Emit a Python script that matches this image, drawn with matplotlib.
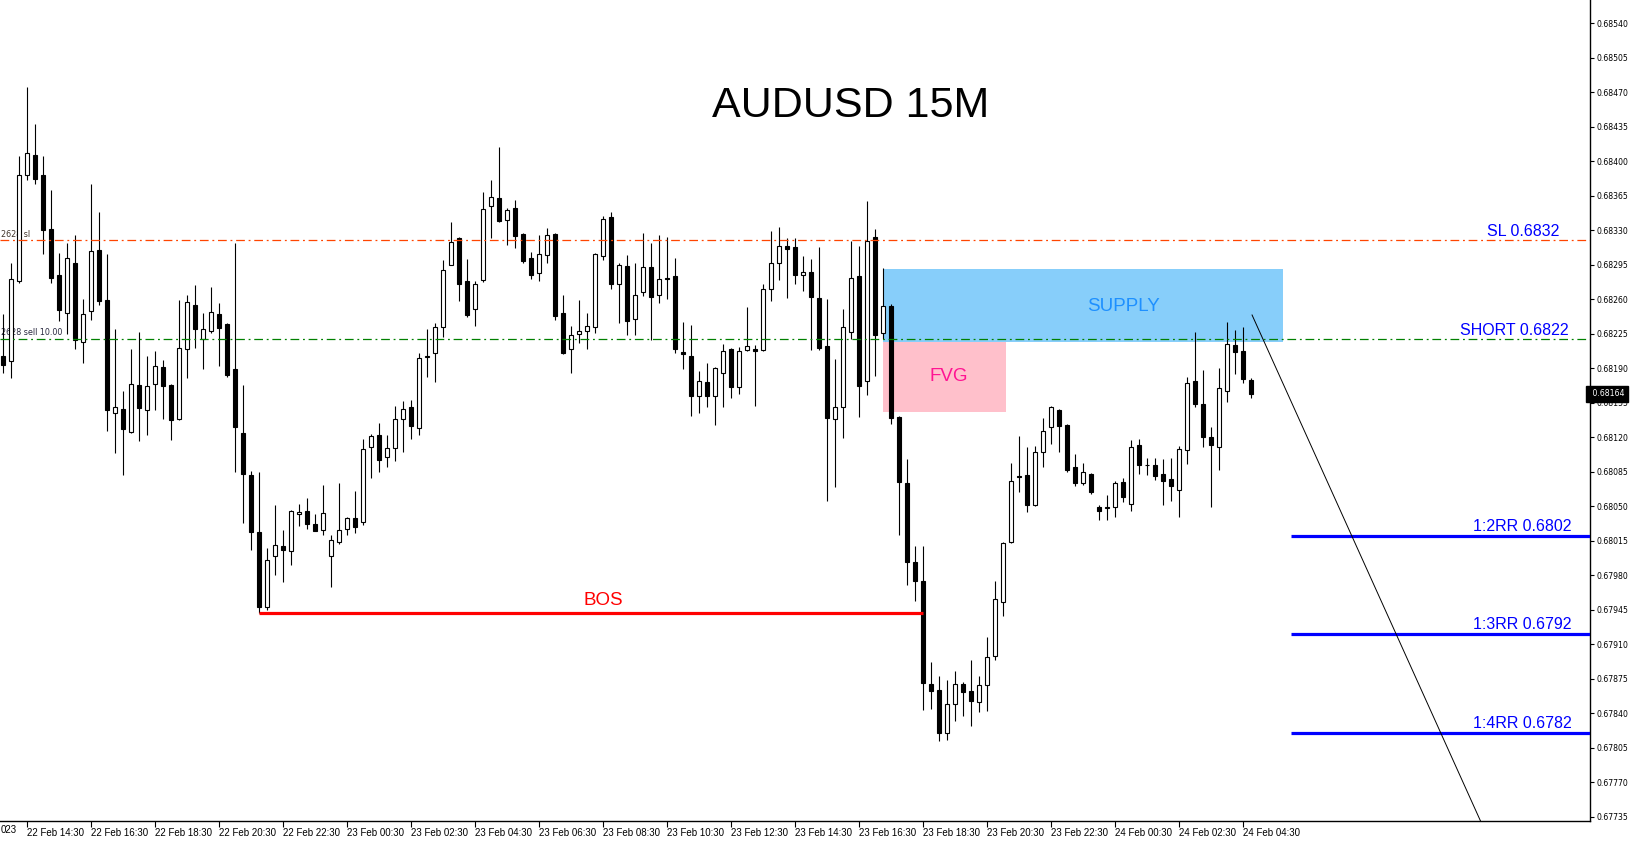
import numpy as np
import pandas as pd
import matplotlib
matplotlib.use("Agg")
import matplotlib.pyplot as plt
from matplotlib.patches import Rectangle
from matplotlib.transforms import blended_transform_factory

# AUDUSD 15 minute candles, prices in points (0.00001)
start_time = pd.Timestamp("2023-02-22 13:45")
opens = [68202, 68197, 68278, 68386, 68406, 68386, 68331, 68285, 68246, 68297,
         68217, 68248, 68310, 68259, 68145, 68149, 68125, 68173, 68148, 68174,
         68191, 68173, 68138, 68210, 68254, 68220, 68228, 68245, 68235, 68189,
         68124, 68082, 68024, 67948, 67999, 68010, 68005, 68042, 68045, 68032,
         68026, 67999, 68014, 68027, 68038, 68034, 68110, 68122, 68100, 68109,
         68138, 68151, 68129, 68201, 68205, 68232, 68295, 68322, 68278, 68250,
         68280, 68355, 68363, 68340, 68353, 68326, 68302, 68287, 68305, 68326,
         68246, 68210, 68225, 68228, 68232, 68304, 68343, 68275, 68294, 68240,
         68267, 68293, 68264, 68282, 68284, 68206, 68202, 68162, 68176, 68162,
         68185, 68210, 68171, 68208, 68210, 68208, 68270, 68297, 68314, 68313,
         68285, 68288, 68261, 68213, 68138, 68151, 68227, 68284, 68177, 68323,
         68226, 68253, 68141, 68074, 67993, 67974, 67870, 67864, 67820, 67849,
         67870, 67863, 67851, 67869, 67898, 67953, 68014, 68081, 68082, 68051,
         68105, 68130, 68148, 68132, 68090, 68074, 68083, 68049, 68048, 68049,
         68075, 68052, 68112, 68092, 68092, 68083, 68078, 68066, 68107, 68177,
         68154, 68120, 68110, 68167, 68214, 68207, 68178]
highs = [68245, 68297, 68405, 68475, 68438, 68405, 68371, 68307, 68317, 68325,
         68260, 68377, 68349, 68306, 68230, 68167, 68209, 68227, 68202, 68207,
         68198, 68174, 68259, 68264, 68274, 68246, 68272, 68256, 68236, 68317,
         68173, 68086, 68085, 68008, 68051, 68026, 68046, 68052, 68058, 68042,
         68072, 68021, 68074, 68039, 68065, 68118, 68123, 68134, 68122, 68152,
         68157, 68158, 68205, 68230, 68236, 68300, 68338, 68323, 68301, 68278,
         68369, 68381, 68414, 68353, 68361, 68327, 68308, 68325, 68332, 68327,
         68264, 68233, 68259, 68246, 68307, 68344, 68348, 68297, 68305, 68297,
         68327, 68317, 68325, 68323, 68302, 68237, 68234, 68187, 68195, 68191,
         68215, 68211, 68212, 68252, 68214, 68275, 68329, 68333, 68322, 68322,
         68304, 68301, 68313, 68260, 68199, 68250, 68319, 68314, 68360, 68331,
         68292, 68255, 68142, 68098, 68010, 68010, 67892, 67878, 67874, 67883,
         67872, 67894, 67878, 67917, 67974, 68014, 68094, 68121, 68110, 68111,
         68139, 68152, 68149, 68133, 68103, 68094, 68084, 68051, 68061, 68076,
         68079, 68117, 68118, 68099, 68099, 68098, 68099, 68111, 68181, 68227,
         68188, 68130, 68190, 68237, 68229, 68232, 68180]
lows = [68185, 68180, 68276, 68381, 68377, 68306, 68276, 68238, 68225, 68210,
        68195, 68239, 68254, 68126, 68104, 68082, 68124, 68116, 68122, 68148,
        68138, 68117, 68137, 68180, 68211, 68189, 68226, 68192, 68181, 68085,
        68033, 68006, 67942, 67945, 67980, 67973, 67990, 68030, 68027, 68025,
        68021, 67968, 68012, 68021, 68023, 68031, 68079, 68085, 68090, 68096,
        68105, 68118, 68122, 68181, 68176, 68222, 68295, 68258, 68242, 68233,
        68277, 68322, 68338, 68315, 68312, 68297, 68281, 68278, 68297, 68239,
        68204, 68185, 68216, 68210, 68226, 68300, 68270, 68236, 68224, 68224,
        68263, 68219, 68256, 68260, 68205, 68189, 68142, 68145, 68151, 68132,
        68151, 68160, 68164, 68207, 68152, 68207, 68258, 68280, 68261, 68275,
        68268, 68208, 68208, 68055, 68069, 68119, 68220, 68141, 68163, 68182,
        68220, 68133, 68021, 67970, 67954, 67843, 67844, 67812, 67813, 67832,
        67837, 67827, 67841, 67842, 67894, 67939, 68013, 68064, 68044, 68050,
        68090, 68113, 68105, 68085, 68070, 68072, 68062, 68036, 68036, 68039,
        68054, 68045, 68083, 68082, 68077, 68051, 68055, 68039, 68093, 68151,
        68110, 68049, 68087, 68156, 68184, 68175, 68160]
closes = [68193, 68281, 68386, 68408, 68382, 68330, 68282, 68249, 68302, 68219,
          68245, 68309, 68258, 68148, 68151, 68128, 68174, 68150, 68172, 68192,
          68172, 68137, 68211, 68257, 68230, 68230, 68247, 68231, 68183, 68130,
          68083, 68024, 67948, 67995, 68011, 68006, 68045, 68044, 68032, 68025,
          68043, 68016, 68026, 68038, 68029, 68108, 68121, 68097, 68109, 68138,
          68149, 68131, 68200, 68202, 68232, 68290, 68318, 68275, 68244, 68275,
          68352, 68364, 68339, 68351, 68324, 68299, 68285, 68306, 68325, 68243,
          68205, 68224, 68228, 68233, 68306, 68341, 68275, 68295, 68238, 68264,
          68293, 68262, 68281, 68281, 68209, 68204, 68162, 68177, 68162, 68190,
          68207, 68171, 68207, 68213, 68207, 68270, 68297, 68314, 68311, 68285,
          68288, 68262, 68211, 68139, 68151, 68232, 68282, 68172, 68319, 68224,
          68253, 68139, 68075, 67993, 67974, 67871, 67863, 67820, 67849, 67870,
          67861, 67852, 67869, 67897, 67956, 68013, 68076, 68080, 68051, 68105,
          68126, 68151, 68131, 68087, 68074, 68085, 68064, 68045, 68049, 68074,
          68059, 68110, 68092, 68092, 68081, 68076, 68070, 68108, 68175, 68154,
          68120, 68112, 68170, 68215, 68206, 68179, 68164]

# trade levels
sl_price = 0.6832
short_price = 0.6822
rr_labels = ["1:2RR", "1:3RR", "1:4RR"]
rr_prices = [0.6802, 0.6792, 0.6782]
bos_price = 0.67942
supply_zone = (0.68291, 0.68217)
fvg_zone = (0.68217, 0.68146)
price_ticks = np.arange(67735, 68541, 35) / 1e5


def bar_pos(t):
    return (pd.Timestamp(t) - start_time) / pd.Timedelta("15min")


o = np.array(opens) / 1e5
h = np.array(highs) / 1e5
l = np.array(lows) / 1e5
c = np.array(closes) / 1e5
x = np.arange(len(o))
times = pd.date_range(start_time, periods=len(o), freq="15min")

plt.rcParams['font.family'] = ['Liberation Sans', 'DejaVu Sans']

fig = plt.figure(figsize=(16.33, 8.41), dpi=100)
ax = fig.add_axes([0, 20 / 841, 1590 / 1633, 821 / 841])
ax.set_xlim(-0.375, 198.375)
ax.set_ylim(0.677306, 0.685636)

# zones behind the candles
ax.add_patch(Rectangle((bar_pos("2023-02-23 17:15"), supply_zone[1]),
                       bar_pos("2023-02-24 05:45") - bar_pos("2023-02-23 17:15"),
                       supply_zone[0] - supply_zone[1],
                       facecolor='#87CEFA', edgecolor='none', zorder=1))
ax.add_patch(Rectangle((bar_pos("2023-02-23 17:15"), fvg_zone[1]),
                       bar_pos("2023-02-23 21:05") - bar_pos("2023-02-23 17:15"),
                       fvg_zone[0] - fvg_zone[1],
                       facecolor='#FFC0CB', edgecolor='none', zorder=1))

# order labels at the left, partly hidden by candles
ax.text(-0.25, sl_price + 0.000015, "2628 sl", fontsize=5.8, family='DejaVu Sans',
        color='#40342a', va='bottom', ha='left', zorder=1.5)
ax.text(-0.25, short_price + 0.000015, "2628 sell 10.00", fontsize=5.8, family='DejaVu Sans',
        color='#2a2a40', va='bottom', ha='left', zorder=1.5)

# candles
up = c >= o
ax.vlines(x, l, h, color='black', lw=0.8, zorder=2)
ax.bar(x[up], c[up] - o[up], bottom=o[up], width=0.55, color='white',
       edgecolor='black', lw=0.8, zorder=3)
ax.bar(x[~up], o[~up] - c[~up], bottom=c[~up], width=0.55, color='black',
       edgecolor='black', lw=0.8, zorder=3)

# trade lines
ax.axhline(sl_price, color='#FF4500', lw=0.9, ls=(0, (7, 3, 1.5, 3)), zorder=4)
ax.axhline(short_price, color='#008000', lw=0.9, ls=(0, (7, 3, 1.5, 3)), zorder=4)
ax.text(194.5, sl_price + 0.00001, "SL 0.6832", color='blue', fontsize=11.5,
        ha='right', va='bottom', zorder=5)
ax.text(195.7, short_price + 0.00001, "SHORT 0.6822", color='blue', fontsize=11.5,
        ha='right', va='bottom', zorder=5)

rr_start = bar_pos("2023-02-24 06:00")
for lab, p in zip(rr_labels, rr_prices):
    ax.hlines(p, rr_start, 210, color='blue', lw=2.3, zorder=4)
    ax.text(196.1, p + 0.00002, f"{lab} {p:.4f}", color='blue', fontsize=11.5,
            ha='right', va='bottom', zorder=5)

# break of structure
ax.hlines(bos_price, bar_pos("2023-02-22 21:45"), bar_pos("2023-02-23 18:30"),
          color='red', lw=2.3, zorder=4)
ax.text(75, bos_price + 0.00004, "BOS", color='red', fontsize=13.5,
        ha='center', va='bottom', zorder=5)

ax.text(bar_pos("2023-02-24 00:45"), 0.68253, "SUPPLY", color='#1E90FF', fontsize=13.5,
        ha='center', va='center', zorder=5)
ax.text(118.25, 0.68182, "FVG", color='#FF1493', fontsize=13.5,
        ha='center', va='center', zorder=5)

# projection line
ax.plot([bar_pos("2023-02-24 04:47"), bar_pos("2023-02-24 12:00")], [0.68244, 0.67725],
        color='black', lw=0.7, zorder=4)

# axes styling
for side in ['top', 'left']:
    ax.spines[side].set_visible(False)
for side in ['right', 'bottom']:
    ax.spines[side].set_linewidth(1.0)

ax.yaxis.tick_right()
ax.set_yticks(price_ticks)
ax.set_yticklabels([f"{p:.5f}" for p in price_ticks], family='DejaVu Sans')
ax.tick_params(axis='y', length=3, width=0.8, pad=2, labelsize=5.6)

xt = np.arange(3, len(o), 8)
ax.set_xticks(xt)
ax.set_xticklabels([times[i].strftime("%d %b %H:%M") for i in xt], ha='left')
ax.tick_params(axis='x', length=4, width=0.8, pad=1, labelsize=7.0)
# tail of the previous (clipped) date label
fig.text(1 / 1633, 11 / 841, "023", fontsize=7.0, ha='left', va='center')

# current price marker
tr = blended_transform_factory(ax.transAxes, ax.transData)
ax.text(1.0, c[-1], f" {c[-1]:.5f}", transform=tr, fontsize=5.6, family='DejaVu Sans',
        color='white', ha='left', va='center', zorder=6, clip_on=False,
        bbox=dict(boxstyle='square,pad=0.45', facecolor='black', edgecolor='black'))

fig.text(851 / 1633, 1 - 106 / 841, "AUDUSD 15M", fontsize=31, ha='center', va='center')

fig.savefig("out.png", dpi=100)
